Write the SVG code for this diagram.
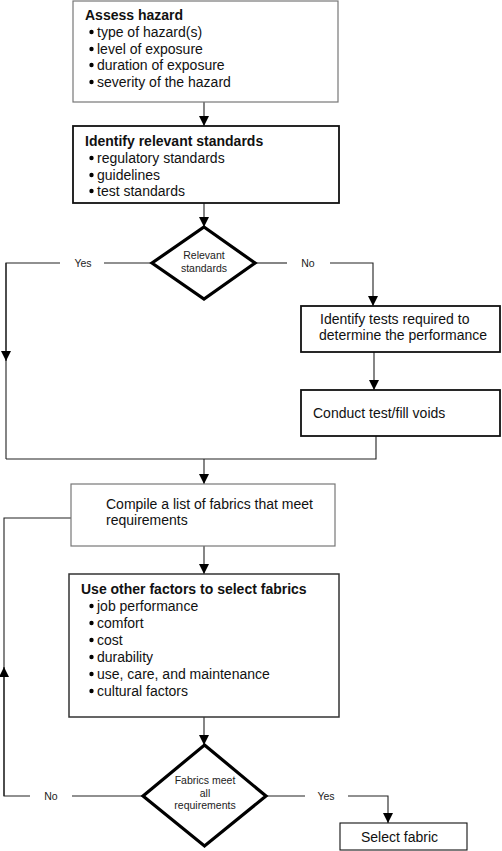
<svg xmlns="http://www.w3.org/2000/svg" width="502" height="851" viewBox="0 0 502 851">
  <defs>
    <marker id="ah" markerUnits="userSpaceOnUse" markerWidth="10" markerHeight="10" refX="10" refY="5" orient="auto">
      <path d="M0,0 L10,5 L0,10 z" fill="#000"/>
    </marker>
  </defs>
  <style>
    text { font-family: "Liberation Sans", Arial, sans-serif; fill: #111; }
    .t { font-size: 14px; }
    .b { font-size: 14px; font-weight: bold; }
    .s { font-size: 10.5px; fill: #222; }
    .box { fill: #fff; }
    .thin { stroke: #777; stroke-width: 1.2; }
    .dark { stroke: #111; stroke-width: 1.8; }
    .dia { fill: #fff; stroke: #000; stroke-width: 3.2; stroke-linejoin: miter; }
    .c { fill: none; stroke: #222; stroke-width: 1.1; }
    .ca { fill: none; stroke: #222; stroke-width: 1.1; marker-end: url(#ah); }
    .dot { fill: #000; }
  </style>
  <rect width="502" height="851" fill="#fff"/>

  <g id="connectors">
    <line class="ca" x1="204" y1="102" x2="204" y2="126"/>
    <line class="ca" x1="204" y1="203" x2="204" y2="227"/>
    <!-- Yes branch -->
    <path class="c" d="M152,263 H104"/>
    <path class="c" d="M60,263 H6 V459"/>
    <line class="ca" x1="6" y1="263" x2="6" y2="361"/>
    <!-- No branch -->
    <path class="c" d="M255,263 H287"/>
    <path class="ca" d="M330,263 H373 V306"/>
    <line class="ca" x1="374" y1="352" x2="374" y2="390"/>
    <path class="c" d="M376,436 V459 H6"/>
    <line class="ca" x1="204" y1="459" x2="204" y2="484"/>
    <line class="ca" x1="204" y1="546" x2="204" y2="574"/>
    <line class="ca" x1="204" y1="717" x2="204" y2="745"/>
    <!-- No loop back -->
    <path class="c" d="M143,796 H72"/>
    <path class="c" d="M30,796 H4 V518 H71"/>
    <line class="ca" x1="4" y1="796" x2="4" y2="667"/>
    <!-- Yes to select -->
    <path class="c" d="M266,796 H305"/>
    <path class="ca" d="M348,796 H388 V823"/>
  </g>

  <g id="labels">
    <text class="s" x="83" y="267" text-anchor="middle">Yes</text>
    <text class="s" x="308" y="267" text-anchor="middle">No</text>
    <text class="s" x="51" y="800" text-anchor="middle">No</text>
    <text class="s" x="326" y="800" text-anchor="middle">Yes</text>
  </g>

  <g id="assess-hazard">
    <rect class="box thin" x="73" y="1" width="265" height="101"/>
    <text class="b" x="85" y="20">Assess hazard</text>
    <circle class="dot" cx="91.5" cy="32" r="2.2"/>
    <text class="t" x="97" y="37">type of hazard(s)</text>
    <circle class="dot" cx="91.5" cy="49" r="2.2"/>
    <text class="t" x="97" y="54">level of exposure</text>
    <circle class="dot" cx="91.5" cy="65" r="2.2"/>
    <text class="t" x="97" y="70">duration of exposure</text>
    <circle class="dot" cx="91.5" cy="82" r="2.2"/>
    <text class="t" x="97" y="87">severity of the hazard</text>
  </g>

  <g id="identify-standards">
    <rect class="box dark" x="73" y="126" width="266" height="77"/>
    <text class="b" x="85" y="146">Identify relevant standards</text>
    <circle class="dot" cx="91.5" cy="158" r="2.2"/>
    <text class="t" x="97" y="163">regulatory standards</text>
    <circle class="dot" cx="91.5" cy="175" r="2.2"/>
    <text class="t" x="97" y="180">guidelines</text>
    <circle class="dot" cx="91.5" cy="191" r="2.2"/>
    <text class="t" x="97" y="196">test standards</text>
  </g>

  <g id="relevant-standards">
    <polygon class="dia" points="204,227 255,263 204,299 152,263"/>
    <text class="s" x="204" y="259" text-anchor="middle">Relevant</text>
    <text class="s" x="204" y="272" text-anchor="middle">standards</text>
  </g>

  <g id="identify-tests">
    <rect class="box dark" x="301" y="306" width="199" height="46"/>
    <text class="t" x="320" y="324">Identify tests required to</text>
    <text class="t" x="319" y="340">determine the performance</text>
  </g>

  <g id="conduct-test">
    <rect class="box dark" x="301" y="390" width="199" height="46"/>
    <text class="t" x="313" y="418">Conduct test/fill voids</text>
  </g>

  <g id="compile-list">
    <rect class="box thin" x="71" y="484" width="264" height="62"/>
    <text class="t" x="106" y="509">Compile a list of fabrics that meet</text>
    <text class="t" x="106" y="525">requirements</text>
  </g>

  <g id="other-factors">
    <rect class="box" x="69" y="574" width="270" height="143" stroke="#333" stroke-width="1.5"/>
    <text class="b" x="81" y="594">Use other factors to select fabrics</text>
    <circle class="dot" cx="91.5" cy="606" r="2.2"/>
    <text class="t" x="97" y="611">job performance</text>
    <circle class="dot" cx="91.5" cy="623" r="2.2"/>
    <text class="t" x="97" y="628">comfort</text>
    <circle class="dot" cx="91.5" cy="640" r="2.2"/>
    <text class="t" x="97" y="645">cost</text>
    <circle class="dot" cx="91.5" cy="657" r="2.2"/>
    <text class="t" x="97" y="662">durability</text>
    <circle class="dot" cx="91.5" cy="674" r="2.2"/>
    <text class="t" x="97" y="679">use, care, and maintenance</text>
    <circle class="dot" cx="91.5" cy="691" r="2.2"/>
    <text class="t" x="97" y="696">cultural factors</text>
  </g>

  <g id="fabrics-meet">
    <polygon class="dia" points="204.5,745 266,796 204.5,846 143,796" stroke-width="3.6"/>
    <text class="s" x="205" y="784" text-anchor="middle">Fabrics meet</text>
    <text class="s" x="205" y="797" text-anchor="middle">all</text>
    <text class="s" x="205" y="809" text-anchor="middle">requirements</text>
  </g>

  <g id="select-fabric">
    <rect class="box" x="340" y="823" width="127" height="27" stroke="#111" stroke-width="1.1"/>
    <text class="t" x="361" y="842">Select fabric</text>
  </g>
</svg>
